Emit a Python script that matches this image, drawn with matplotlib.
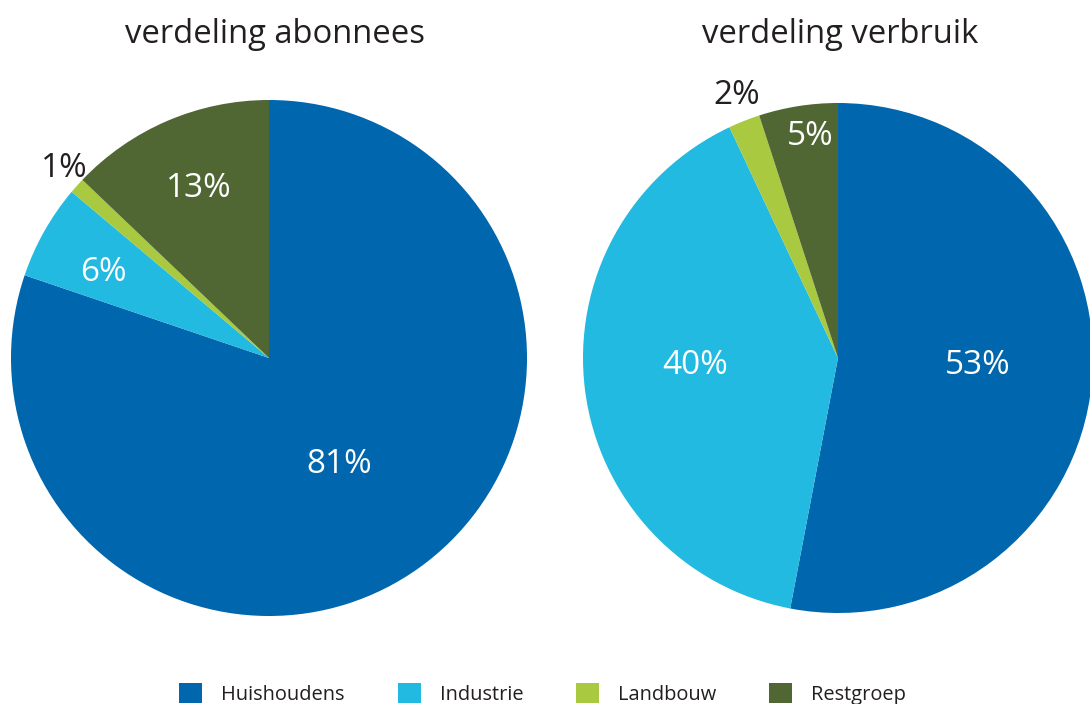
import numpy as np
import matplotlib.pyplot as plt

plt.rcParams['font.family'] = ['Open Sans', 'DejaVu Sans']

# --- data ---
categories = ['Huishoudens', 'Industrie', 'Landbouw', 'Restgroep']
colors = ['#0066AD', '#22BAE0', '#A8C940', '#506734']
abonnees = [81, 6, 1, 13]
verbruik = [53, 40, 2, 5]
titles = ['verdeling abonnees', 'verdeling verbruik']

# label anchor (baseline, fraction of pie radius) and colour per wedge
abon_lab_xy = [(0.271, -0.446), (-0.643, 0.298), (-0.795, 0.702), (-0.273, 0.624)]
abon_lab_c = ['white', 'white', '#231F20', 'white']
verb_lab_xy = [(0.549, -0.063), (-0.559, -0.063), (-0.398, 0.996), (-0.110, 0.835)]
verb_lab_c = ['white', 'white', '#231F20', 'white']

W, H = 1090, 704
fig = plt.figure(figsize=(W / 100, H / 100), dpi=100)


def px_axes(cx, cy, r):
    return fig.add_axes([(cx - r) / W, (H - cy - r) / H, 2 * r / W, 2 * r / H])


def draw_pie(ax, vals, lab_xy, lab_c):
    wedges, _ = ax.pie(vals, colors=colors, startangle=90, counterclock=False,
                       wedgeprops=dict(linewidth=0))
    for v, (x, y), c in zip(vals, lab_xy, lab_c):
        ax.text(x, y, f'{v}%', ha='center', va='baseline', fontsize=24, color=c)
    ax.set_xlim(-1, 1)
    ax.set_ylim(-1, 1)
    ax.set_aspect('equal')
    ax.axis('off')
    return wedges


ax1 = px_axes(269, 358, 258)
wedges = draw_pie(ax1, abonnees, abon_lab_xy, abon_lab_c)
ax2 = px_axes(838, 358, 255)
draw_pie(ax2, verbruik, verb_lab_xy, verb_lab_c)

fig.text(275 / W, 1 - 43 / H, titles[0], ha='center', va='baseline',
         fontsize=23.6, color='#231F20')
fig.text(840 / W, 1 - 43 / H, titles[1], ha='center', va='baseline',
         fontsize=23.6, color='#231F20')

fig.legend(wedges, categories, loc='center', bbox_to_anchor=(0.4977, 1 - 694 / H),
           ncol=4, frameon=False, fontsize=14.4, handlelength=1.15, handleheight=1.1,
           columnspacing=2.63, handletextpad=0.95, labelcolor='#231F20')

fig.savefig('out.png', dpi=100)
